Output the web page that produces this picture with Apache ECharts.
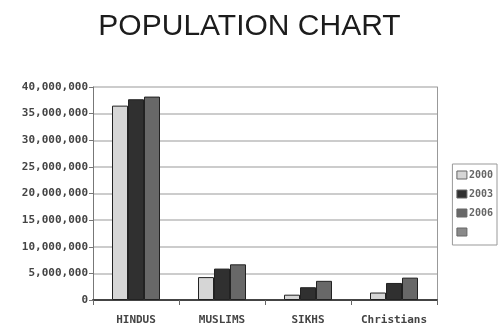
<!DOCTYPE html>
<html>
<head>
<meta charset="utf-8">
<script src="https://cdn.jsdelivr.net/npm/echarts@6/dist/echarts.min.js"></script>
<style>
  html, body { margin: 0; padding: 0; background: #fff; }
  #chart { width: 499px; height: 327px; }
</style>
</head>
<body>
<div id="chart"></div>
<script>
  // data
  var categories = ['HINDUS', 'MUSLIMS', 'SIKHS', 'Christians']
  var years = ['2000', '2003', '2006', ' ']
  var pop2000 = [36500000, 4300000, 1000000, 1400000]
  var pop2003 = [37700000, 5900000, 2400000, 3200000]
  var pop2006 = [38200000, 6700000, 3600000, 4200000]
  var yTicks = [0, 5000000, 10000000, 15000000, 20000000, 25000000, 30000000, 35000000, 40000000]

  var colors = ['#d6d6d6', '#303030', '#686868', '#8a8a8a']
  var labelFont = { fontFamily: 'DejaVu Sans Mono', fontWeight: 'bold', fontSize: 11, color: '#444' }

  function fmt (v) {
    return v.toString().replace(/\B(?=(\d{3})+(?!\d))/g, ',')
  }

  function barSeries (name, data, color) {
    return {
      name: name,
      type: 'bar',
      data: data,
      barWidth: 16,
      barGap: '0%',
      itemStyle: { color: color, borderColor: '#222', borderWidth: 1 }
    }
  }

  var chart = echarts.init(document.getElementById('chart'))
  chart.setOption({
    animation: false,
    color: colors,
    title: {
      text: 'POPULATION CHART',
      left: 'center',
      top: 7,
      textStyle: { fontFamily: 'Liberation Sans', fontWeight: 'normal', fontSize: 30, color: '#1c1c1c' }
    },
    legend: {
      orient: 'vertical',
      right: 2,
      top: 164,
      data: years,
      icon: 'rect',
      itemWidth: 10,
      itemHeight: 8,
      itemGap: 9,
      padding: [6, 4, 8, 4],
      borderColor: '#999',
      borderWidth: 1,
      itemStyle: { borderColor: '#666', borderWidth: 1 },
      textStyle: { fontFamily: 'DejaVu Sans Mono', fontWeight: 'bold', fontSize: 10, color: '#666', padding: [0, 0, 0, -3] }
    },
    grid: { left: 93, right: 62, top: 87, bottom: 27 },
    xAxis: {
      type: 'category',
      data: categories,
      axisLine: { lineStyle: { color: '#444', width: 2 } },
      axisTick: { show: true, lineStyle: { color: '#666' } },
      axisLabel: Object.assign({ margin: 15, interval: 0 }, labelFont)
    },
    yAxis: [{
      type: 'value',
      min: yTicks[0],
      max: yTicks[yTicks.length - 1],
      interval: yTicks[1] - yTicks[0],
      axisLine: { show: true, lineStyle: { color: '#777' } },
      axisTick: { show: true, length: 4, lineStyle: { color: '#777' } },
      axisLabel: Object.assign({ margin: 5, formatter: fmt }, labelFont),
      splitLine: { lineStyle: { color: '#bbb', width: 1.5 } }
    }, {
      type: 'value',
      position: 'right',
      min: yTicks[0],
      max: yTicks[yTicks.length - 1],
      interval: yTicks[1] - yTicks[0],
      axisLine: { show: true, lineStyle: { color: '#999' } },
      axisTick: { show: false },
      axisLabel: { show: false },
      splitLine: { show: false }
    }],
    series: [
      barSeries(years[0], pop2000, colors[0]),
      barSeries(years[1], pop2003, colors[1]),
      barSeries(years[2], pop2006, colors[2]),
      { name: years[3], type: 'bar', data: [], itemStyle: { color: colors[3] } }
    ]
  })
</script>
</body>
</html>
